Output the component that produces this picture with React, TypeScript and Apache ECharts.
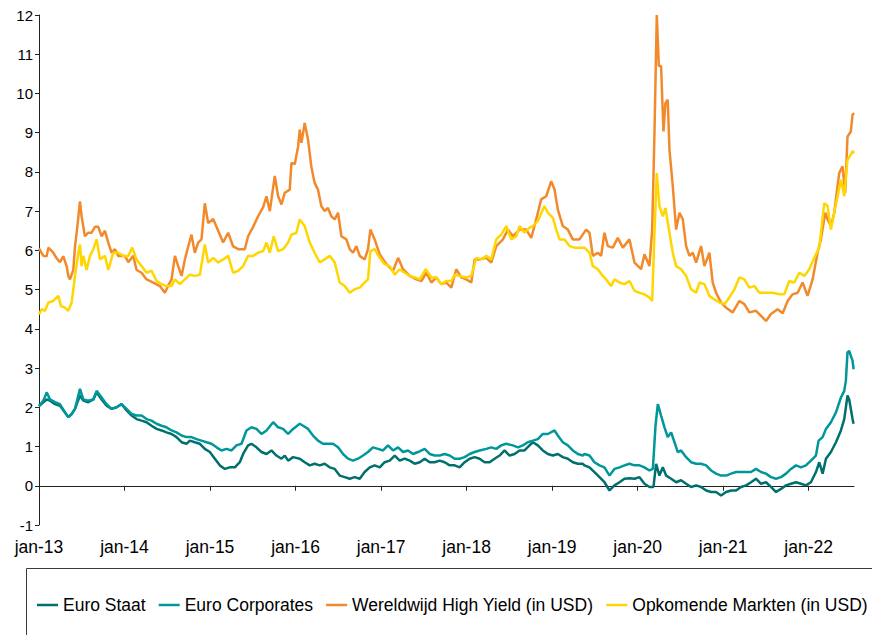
import React, { useEffect, useRef } from "react";
import * as echarts from "echarts";

// ---- Data (x = decimal year, y = yield %) ----
const staatDates = [2013.000,2013.051,2013.090,2013.129,2013.187,2013.245,2013.304,2013.343,2013.382,2013.421,2013.479,2013.518,2013.576,2013.635,2013.674,2013.732,2013.790,2013.849,2013.907,2013.966,2014.024,2014.083,2014.141,2014.199,2014.258,2014.316,2014.375,2014.433,2014.491,2014.550,2014.608,2014.667,2014.725,2014.764,2014.822,2014.881,2014.939,2014.998,2015.056,2015.114,2015.173,2015.231,2015.290,2015.348,2015.387,2015.445,2015.484,2015.543,2015.601,2015.660,2015.718,2015.776,2015.835,2015.874,2015.913,2015.971,2016.049,2016.107,2016.166,2016.223,2016.282,2016.340,2016.399,2016.458,2016.516,2016.575,2016.633,2016.691,2016.750,2016.808,2016.867,2016.925,2016.984,2017.042,2017.101,2017.160,2017.218,2017.276,2017.335,2017.393,2017.452,2017.510,2017.568,2017.627,2017.685,2017.743,2017.802,2017.860,2017.918,2017.977,2018.035,2018.094,2018.152,2018.211,2018.269,2018.327,2018.386,2018.444,2018.502,2018.561,2018.619,2018.677,2018.736,2018.775,2018.833,2018.891,2018.950,2019.009,2019.067,2019.125,2019.184,2019.242,2019.301,2019.359,2019.378,2019.437,2019.495,2019.554,2019.612,2019.671,2019.729,2019.788,2019.846,2019.905,2019.963,2020.022,2020.080,2020.138,2020.185,2020.216,2020.255,2020.294,2020.333,2020.392,2020.450,2020.508,2020.567,2020.625,2020.684,2020.742,2020.801,2020.859,2020.917,2020.976,2021.034,2021.093,2021.151,2021.209,2021.268,2021.326,2021.384,2021.443,2021.501,2021.559,2021.618,2021.676,2021.735,2021.793,2021.852,2021.910,2021.968,2022.026,2022.085,2022.124,2022.163,2022.202,2022.260,2022.319,2022.377,2022.416,2022.454,2022.474,2022.493,2022.513,2022.525];
const staatValues = [2.03,2.13,2.2,2.17,2.08,2.04,1.87,1.75,1.83,1.96,2.3,2.17,2.13,2.2,2.38,2.2,2.04,1.96,2.0,2.08,1.92,1.79,1.7,1.66,1.62,1.53,1.45,1.41,1.36,1.32,1.24,1.11,1.07,1.15,1.11,1.07,0.94,0.86,0.69,0.52,0.43,0.47,0.47,0.6,0.81,1.03,1.07,0.98,0.86,0.81,0.9,0.77,0.69,0.77,0.64,0.73,0.69,0.6,0.52,0.56,0.52,0.56,0.47,0.43,0.26,0.22,0.18,0.22,0.18,0.35,0.47,0.52,0.47,0.6,0.64,0.77,0.64,0.69,0.64,0.56,0.6,0.69,0.6,0.6,0.64,0.6,0.52,0.52,0.47,0.6,0.69,0.73,0.69,0.6,0.6,0.69,0.77,0.9,0.77,0.81,0.9,0.9,1.03,1.11,1.03,0.9,0.81,0.77,0.81,0.73,0.69,0.6,0.56,0.56,0.52,0.47,0.35,0.22,0.09,-0.12,0.01,0.09,0.18,0.19,0.18,0.22,0.05,-0.03,-0.03,0.56,0.26,0.47,0.26,0.18,0.09,0.14,0.05,-0.03,0.01,-0.03,-0.12,-0.16,-0.16,-0.25,-0.16,-0.12,-0.12,-0.03,0.01,0.09,0.18,0.05,0.09,-0.03,-0.16,-0.08,0.01,0.05,0.09,0.05,0.01,0.09,0.35,0.6,0.31,0.69,0.86,1.11,1.41,1.7,2.3,2.2,1.96,1.7,1.58];

const corpDates = [2013.000,2013.051,2013.090,2013.129,2013.187,2013.245,2013.304,2013.343,2013.382,2013.421,2013.479,2013.518,2013.576,2013.635,2013.674,2013.732,2013.790,2013.849,2013.907,2013.966,2014.024,2014.083,2014.141,2014.199,2014.258,2014.316,2014.375,2014.433,2014.491,2014.550,2014.608,2014.667,2014.725,2014.783,2014.842,2014.900,2014.959,2015.017,2015.076,2015.134,2015.192,2015.251,2015.309,2015.368,2015.426,2015.484,2015.543,2015.601,2015.660,2015.738,2015.796,2015.854,2015.913,2015.971,2016.049,2016.088,2016.146,2016.204,2016.262,2016.321,2016.379,2016.438,2016.497,2016.555,2016.613,2016.672,2016.730,2016.789,2016.847,2016.905,2016.964,2017.023,2017.081,2017.140,2017.199,2017.257,2017.316,2017.374,2017.432,2017.510,2017.568,2017.627,2017.685,2017.743,2017.802,2017.860,2017.918,2017.977,2018.035,2018.094,2018.152,2018.230,2018.288,2018.347,2018.405,2018.463,2018.541,2018.600,2018.658,2018.716,2018.775,2018.833,2018.891,2018.950,2019.028,2019.067,2019.125,2019.184,2019.242,2019.301,2019.359,2019.378,2019.437,2019.495,2019.554,2019.612,2019.671,2019.729,2019.788,2019.846,2019.905,2019.963,2020.022,2020.080,2020.138,2020.178,2020.209,2020.236,2020.274,2020.314,2020.352,2020.392,2020.431,2020.469,2020.508,2020.567,2020.625,2020.684,2020.742,2020.801,2020.859,2020.917,2020.976,2021.034,2021.093,2021.151,2021.209,2021.268,2021.326,2021.384,2021.443,2021.501,2021.559,2021.618,2021.676,2021.735,2021.793,2021.852,2021.910,2021.968,2022.026,2022.085,2022.116,2022.163,2022.202,2022.260,2022.319,2022.377,2022.416,2022.435,2022.454,2022.474,2022.493,2022.513,2022.525];
const corpValues = [2.03,2.17,2.38,2.2,2.13,2.08,1.87,1.75,1.83,1.96,2.47,2.2,2.17,2.2,2.42,2.25,2.08,1.96,2.0,2.08,1.96,1.83,1.79,1.79,1.7,1.66,1.58,1.53,1.49,1.41,1.36,1.28,1.24,1.24,1.19,1.15,1.11,1.07,0.98,0.9,0.94,0.9,1.03,1.07,1.41,1.49,1.45,1.32,1.41,1.62,1.49,1.45,1.32,1.45,1.58,1.53,1.45,1.28,1.15,1.07,1.07,1.07,0.98,0.81,0.69,0.64,0.69,0.77,0.86,0.98,0.94,0.9,1.03,0.9,0.98,0.86,0.9,0.81,0.86,0.94,0.81,0.77,0.77,0.81,0.77,0.69,0.69,0.73,0.81,0.86,0.9,0.94,0.98,0.94,1.03,1.07,1.03,0.98,1.03,1.11,1.15,1.19,1.32,1.32,1.41,1.28,1.11,1.03,0.9,0.81,0.77,0.81,0.77,0.6,0.52,0.47,0.26,0.43,0.47,0.52,0.56,0.52,0.52,0.47,0.39,0.43,1.53,2.08,1.79,1.49,1.24,1.36,1.11,0.86,0.9,0.73,0.6,0.56,0.56,0.52,0.39,0.31,0.26,0.26,0.31,0.35,0.35,0.35,0.35,0.43,0.35,0.31,0.22,0.18,0.22,0.31,0.43,0.52,0.47,0.52,0.64,0.77,1.15,1.24,1.45,1.62,1.87,2.25,2.42,2.68,3.4,3.44,3.31,3.19,2.97];

const hyDates = [2013.000,2013.051,2013.090,2013.109,2013.167,2013.206,2013.245,2013.284,2013.323,2013.343,2013.362,2013.401,2013.421,2013.448,2013.479,2013.498,2013.537,2013.576,2013.615,2013.654,2013.693,2013.732,2013.771,2013.810,2013.849,2013.888,2013.927,2014.005,2014.044,2014.102,2014.141,2014.199,2014.258,2014.336,2014.414,2014.472,2014.511,2014.550,2014.589,2014.628,2014.667,2014.706,2014.745,2014.783,2014.822,2014.861,2014.900,2014.939,2014.978,2015.037,2015.095,2015.153,2015.212,2015.270,2015.329,2015.407,2015.445,2015.504,2015.562,2015.621,2015.660,2015.699,2015.757,2015.796,2015.835,2015.874,2015.932,2015.952,2015.991,2016.030,2016.049,2016.069,2016.107,2016.146,2016.184,2016.223,2016.262,2016.301,2016.340,2016.379,2016.418,2016.458,2016.497,2016.536,2016.594,2016.633,2016.672,2016.711,2016.750,2016.808,2016.847,2016.875,2016.925,2016.984,2017.062,2017.140,2017.199,2017.257,2017.335,2017.413,2017.471,2017.530,2017.588,2017.646,2017.704,2017.763,2017.821,2017.879,2017.938,2017.996,2018.055,2018.094,2018.152,2018.230,2018.288,2018.347,2018.425,2018.483,2018.541,2018.619,2018.697,2018.756,2018.814,2018.872,2018.931,2018.989,2019.028,2019.067,2019.125,2019.184,2019.242,2019.320,2019.398,2019.437,2019.476,2019.534,2019.573,2019.612,2019.651,2019.710,2019.768,2019.827,2019.905,2019.963,2020.041,2020.080,2020.138,2020.170,2020.197,2020.224,2020.248,2020.274,2020.302,2020.325,2020.352,2020.372,2020.411,2020.450,2020.489,2020.528,2020.567,2020.606,2020.645,2020.684,2020.742,2020.781,2020.839,2020.878,2020.917,2020.976,2021.034,2021.112,2021.190,2021.248,2021.306,2021.384,2021.443,2021.501,2021.559,2021.637,2021.696,2021.754,2021.812,2021.871,2021.929,2021.987,2022.046,2022.104,2022.143,2022.194,2022.221,2022.260,2022.299,2022.357,2022.396,2022.427,2022.454,2022.493,2022.513,2022.532];
const hyValues = [6.05,5.86,5.85,6.07,5.94,5.8,5.7,5.85,5.6,5.35,5.26,5.5,6.1,6.6,7.25,6.87,6.36,6.45,6.45,6.6,6.6,6.36,6.5,6.2,5.94,6.03,5.86,5.86,5.7,5.86,5.5,5.43,5.26,5.18,5.09,4.92,5.1,5.26,5.86,5.6,5.35,5.77,6.1,6.4,5.94,6.2,6.28,7.2,6.7,6.8,6.5,6.2,6.45,6.1,6.03,6.03,6.36,6.6,6.87,7.1,7.38,7.0,7.9,7.38,7.17,7.47,7.55,8.23,8.2,8.65,9.08,8.74,9.25,8.82,8.14,7.72,7.55,7.13,7.0,7.08,6.87,6.79,6.96,6.36,6.28,6.03,5.94,6.11,5.86,5.77,6.03,6.53,6.28,5.9,5.65,5.48,5.81,5.52,5.35,5.26,5.22,5.43,5.18,5.31,5.14,5.18,5.05,5.52,5.31,5.26,5.18,5.77,5.77,5.81,5.69,6.11,6.28,6.53,6.36,6.53,6.53,6.32,6.79,7.3,7.38,7.76,7.55,7.04,6.62,6.53,6.28,6.28,6.53,6.45,5.86,5.94,5.86,6.45,6.11,6.07,6.32,6.07,6.28,5.69,5.52,5.9,5.6,6.53,9.0,12.0,10.7,10.7,9.03,9.75,9.84,8.57,7.64,6.53,6.96,6.79,6.11,5.86,5.94,5.69,6.11,5.6,5.94,5.18,4.92,4.67,4.54,4.42,4.71,4.63,4.42,4.46,4.33,4.2,4.38,4.5,4.4,4.71,4.88,4.92,5.18,4.84,5.26,5.94,6.28,6.96,6.79,6.62,6.96,7.97,8.14,7.47,8.9,9.03,9.46,9.5];

const emDates = [2013.000,2013.031,2013.070,2013.109,2013.167,2013.226,2013.257,2013.304,2013.343,2013.382,2013.421,2013.460,2013.479,2013.498,2013.518,2013.557,2013.596,2013.635,2013.674,2013.713,2013.771,2013.810,2013.868,2013.927,2013.985,2014.044,2014.090,2014.141,2014.199,2014.258,2014.316,2014.375,2014.433,2014.491,2014.550,2014.589,2014.647,2014.706,2014.764,2014.822,2014.881,2014.939,2014.978,2015.037,2015.095,2015.153,2015.212,2015.270,2015.329,2015.387,2015.445,2015.504,2015.562,2015.621,2015.660,2015.699,2015.745,2015.796,2015.854,2015.913,2015.952,2016.010,2016.049,2016.107,2016.166,2016.223,2016.282,2016.340,2016.399,2016.458,2016.516,2016.575,2016.633,2016.691,2016.750,2016.808,2016.847,2016.875,2016.925,2016.984,2017.042,2017.101,2017.160,2017.218,2017.276,2017.335,2017.393,2017.452,2017.522,2017.588,2017.646,2017.704,2017.763,2017.821,2017.860,2017.918,2017.996,2018.055,2018.114,2018.172,2018.230,2018.288,2018.347,2018.405,2018.463,2018.522,2018.580,2018.619,2018.677,2018.736,2018.775,2018.833,2018.911,2018.950,2019.009,2019.048,2019.087,2019.145,2019.203,2019.262,2019.320,2019.378,2019.437,2019.476,2019.534,2019.593,2019.632,2019.690,2019.729,2019.788,2019.846,2019.905,2019.963,2020.022,2020.080,2020.138,2020.170,2020.197,2020.224,2020.255,2020.294,2020.325,2020.372,2020.411,2020.450,2020.508,2020.567,2020.625,2020.684,2020.723,2020.781,2020.839,2020.897,2020.956,2021.015,2021.073,2021.132,2021.190,2021.248,2021.306,2021.365,2021.423,2021.501,2021.579,2021.657,2021.715,2021.773,2021.832,2021.890,2021.949,2022.007,2022.065,2022.124,2022.182,2022.221,2022.260,2022.299,2022.338,2022.377,2022.416,2022.454,2022.493,2022.513,2022.532];
const emValues = [4.37,4.5,4.46,4.67,4.71,4.84,4.58,4.54,4.46,4.67,5.35,5.94,6.15,5.6,5.86,5.5,5.86,6.03,6.28,5.77,5.86,5.5,5.94,5.94,5.86,5.86,6.07,5.77,5.6,5.43,5.48,5.22,5.14,5.09,5.09,5.26,5.14,5.26,5.38,5.35,5.38,6.15,5.69,5.81,5.69,5.77,5.86,5.43,5.48,5.6,5.86,5.86,5.94,5.98,6.2,5.94,6.36,5.98,6.03,6.2,6.4,6.45,6.79,6.62,6.2,5.94,5.69,5.77,5.86,5.69,5.18,5.09,4.92,5.01,5.05,5.18,5.26,5.98,6.03,5.81,5.65,5.6,5.38,5.52,5.43,5.35,5.31,5.26,5.52,5.31,5.31,5.14,5.22,5.22,5.38,5.35,5.31,5.35,5.81,5.77,5.86,5.77,6.28,6.4,6.62,6.28,6.36,6.62,6.45,6.58,6.62,6.75,7.13,6.96,6.83,6.53,6.28,6.28,6.11,6.07,6.07,6.07,5.94,5.6,5.52,5.35,5.26,5.09,5.26,5.18,5.14,5.22,4.97,4.92,4.88,4.8,4.71,6.45,7.97,7.13,6.87,7.08,6.45,5.94,5.6,5.52,5.35,5.01,4.92,5.18,5.14,4.84,4.75,4.67,4.63,4.8,5.01,5.31,5.26,5.05,5.09,4.92,4.92,4.92,4.88,4.88,5.22,5.18,5.43,5.35,5.52,5.81,6.07,7.2,7.13,6.53,6.96,7.38,7.8,7.38,8.31,8.44,8.53,8.48];

const seriesNames = ["Euro Staat", "Euro Corporates", "Wereldwijd High Yield (in USD)", "Opkomende Markten (in USD)"];
const seriesColors = ["#00706e", "#00979b", "#f28a2c", "#ffd600"];

const xTickYears = [2013, 2014, 2015, 2016, 2017, 2018, 2019, 2020, 2021, 2022];
const xTickLabels = ["jan-13", "jan-14", "jan-15", "jan-16", "jan-17", "jan-18", "jan-19", "jan-20", "jan-21", "jan-22"];
const xMax = 2022.53;
const yMin = -1;
const yMax = 12;

const FONT = '"Liberation Sans", Arial, sans-serif';

function pairs(xs: number[], ys: number[]) {
  return xs.map((x, i) => [x, ys[i]]);
}

export default function App() {
  const ref = useRef<HTMLDivElement>(null);

  useEffect(() => {
    if (!ref.current) return;
    const chart = echarts.init(ref.current, null, { renderer: "svg" });
    const dataSets = [
      pairs(staatDates, staatValues),
      pairs(corpDates, corpValues),
      pairs(hyDates, hyValues),
      pairs(emDates, emValues),
    ];
    chart.setOption({
      animation: false,
      textStyle: { fontFamily: FONT },
      grid: { left: 39, right: 18, top: 15, bottom: 110 },
      legend: {
        left: 32,
        top: 591,
        width: 860,
        icon: "rect",
        itemWidth: 21,
        itemHeight: 2.5,
        itemGap: 13,
        textStyle: { fontSize: 17.5, color: "#000", fontFamily: FONT },
        data: seriesNames,
      },
      graphic: [
        {
          type: "rect",
          shape: { x: 26.5, y: 568.5, width: 900, height: 200 },
          style: { fill: "none", stroke: "#3c3c3c", lineWidth: 1 },
          silent: true,
        },
      ],
      xAxis: {
        type: "value",
        min: 2013,
        max: xMax,
        interval: 1,
        splitLine: { show: false },
        axisLine: { show: true, onZero: true, lineStyle: { color: "#222", width: 1 } },
        axisTick: { show: true, length: 5, lineStyle: { color: "#222" }, customValues: xTickYears },
        axisLabel: {
          customValues: xTickYears,
          margin: 13,
          fontSize: 17.5,
          color: "#000",
          fontFamily: FONT,
          formatter: (v: number) => {
            const i = xTickYears.indexOf(Math.round(v));
            return i >= 0 ? xTickLabels[i] : "";
          },
        },
      },
      yAxis: {
        type: "value",
        min: yMin,
        max: yMax,
        interval: 1,
        splitLine: { show: false },
        axisLine: { show: true, lineStyle: { color: "#222", width: 1 } },
        axisTick: { show: true, length: 4, lineStyle: { color: "#222" } },
        axisLabel: { fontSize: 15, color: "#000", margin: 6, fontFamily: FONT },
      },
      series: seriesNames.map((name, i) => ({
        name,
        type: "line",
        data: dataSets[i],
        symbol: "none",
        showSymbol: false,
        color: seriesColors[i],
        lineStyle: { color: seriesColors[i], width: 2.5 },
      })),
    });
    return () => chart.dispose();
  }, []);

  return (
    <div
      ref={ref}
      style={{ position: "fixed", left: 0, top: 0, width: 872, height: 635, background: "#fff" }}
    />
  );
}
